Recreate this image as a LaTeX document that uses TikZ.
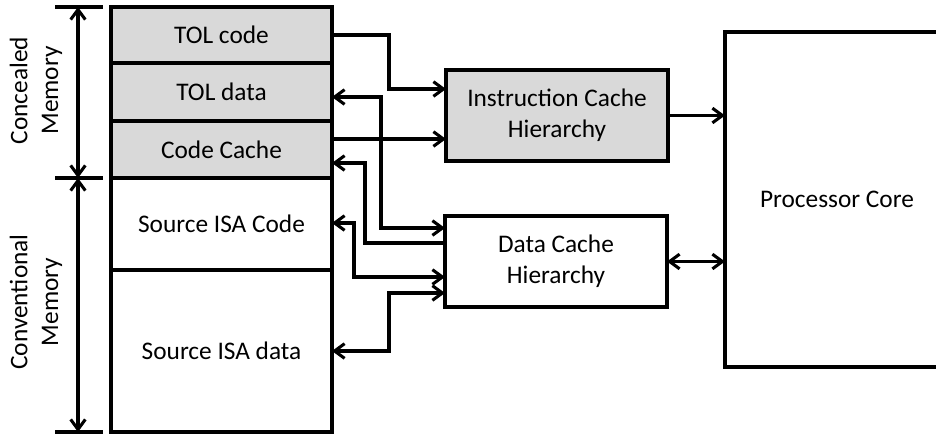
\documentclass[tikz,border=0pt]{standalone}
\usepackage{fontspec}
\setmainfont{Carlito}
\usepackage{tikz}
\usetikzlibrary{arrows.meta, positioning, calc}

\begin{document}
\begin{tikzpicture}[x=0.75pt,y=0.75pt,yscale=-1,xscale=1,
  line width=2.3pt,
  >={Straight Barb[length=7.5pt,width=11pt]},
  every node/.style={font=\fontsize{19}{23}\selectfont},
  memrow/.style={draw, outer sep=0pt, minimum width=165.75pt, align=center},
  concealed/.style={memrow, fill={rgb,255:red,217;green,217;blue,217}},
  cachebox/.style={draw, outer sep=0pt, minimum width=166.5pt, minimum height=68.25pt, align=center},
  sidelabel/.style={rotate=90, align=center}]
%set diagram left start at 0, and has height of 436
\useasboundingbox (0,0) rectangle (936,436);

%Shape: Rectangle [memory stack]
\node [concealed, minimum height=42pt] (tolcode) at (221.5,35) {TOL code};
\node [concealed, minimum height=43.5pt, below=0pt of tolcode] (toldata) {TOL data};
\node [concealed, minimum height=42.75pt, below=0pt of toldata] (codecache) {Code Cache};
\node [memrow, minimum height=69pt, below=0pt of codecache] (srccode) {Source ISA Code};
\node [memrow, minimum height=121.5pt, below=0pt of srccode] (srcdata) {Source ISA data};

%Shape: Rectangle [caches and core]
\node [cachebox, fill={rgb,255:red,217;green,217;blue,217}] (icache) at (557,115.5) {Instruction Cache\\Hierarchy};
\node [cachebox] (dcache) at (556,261.5) {Data Cache\\Hierarchy};
\node [draw, outer sep=0pt, minimum width=168pt, minimum height=251.25pt] (core) at (837,199.5) {Processor Core};

%Straight Lines [region brackets]
\coordinate (ctop) at ($(tolcode.north west)+(-33,0)$);
\coordinate (cmid) at ($(codecache.south west)+(-33,0)$);
\coordinate (cbot) at ($(srcdata.south west)+(-33,0)$);
\foreach \c in {ctop,cmid,cbot}
  \draw ($(\c)+(-23,0)$) -- ($(\c)+(25,0)$);
\draw [<->] (ctop) -- (cmid);
\draw [<->] (cmid) -- (cbot);

% Text Node
\node [sidelabel] (lblconc) at ($(ctop)!0.5!(cmid)+(-42,-2)$) {Concealed\\Memory};
% Text Node
\node [sidelabel] (lblconv) at ($(cmid)!0.5!(cbot)+(-42,-3)$) {Conventional\\Memory};

%Straight Lines [instruction side]
\draw [->] (tolcode.east) -- ++(57,0) |- ($(icache.west)+(0,-26.5)$);
\draw [->] ($(codecache.east)+(0,-10.5)$) coordinate (ccout) -- (ccout -| icache.west);
\draw [->] (icache.east) -- (icache.east -| core.west);

%Straight Lines [data side]
\draw [<->] ($(toldata.east)+(0,5)$) -- ++(49,0) |- ($(dcache.west)+(0,-33.5)$);
\draw [->] ($(dcache.west)+(0,-18.5)$) -- ++(-80,0) |- ($(codecache.east)+(0,13.5)$);
\draw [<->] ($(srccode.east)+(0,-1)$) -- ++(22,0) |- ($(dcache.west)+(0,15.5)$);
\draw [<->] (srcdata.east) -- ++(57,0) |- ($(dcache.west)+(0,31.5)$);
\draw [<->] (dcache.east) -- (dcache.east -| core.west);

\end{tikzpicture}
\end{document}
